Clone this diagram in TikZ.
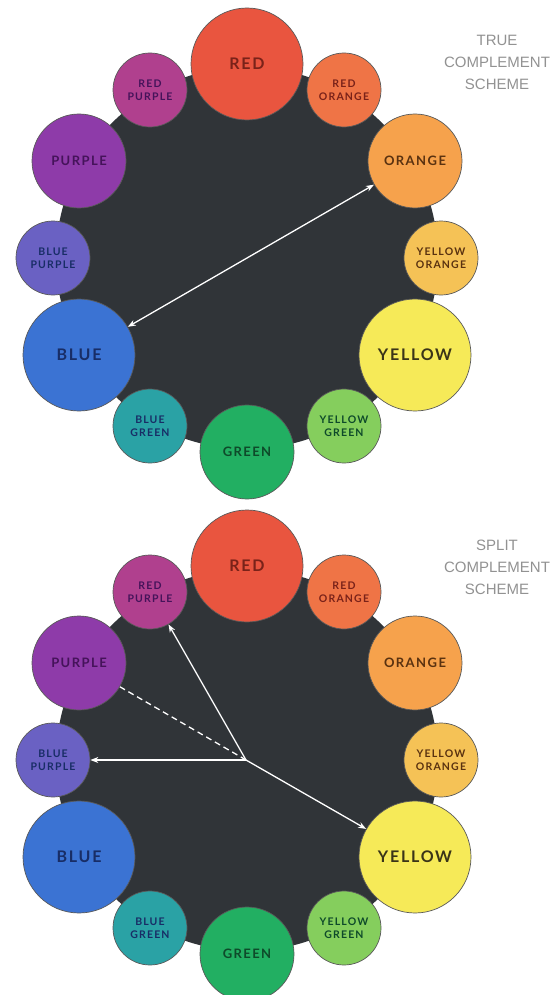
\documentclass[tikz,border=0pt]{standalone}
\usepackage{fontspec}
\setmainfont{Lato}
\newfontfamily\lblfont[LetterSpace=11]{Lato}
\newfontfamily\ttlfont{Liberation Sans}
\usetikzlibrary{calc,arrows.meta}
\definecolor{cR}{HTML}{E9553F}
\definecolor{cRO}{HTML}{EF7446}
\definecolor{cO}{HTML}{F6A24C}
\definecolor{cYO}{HTML}{F5C256}
\definecolor{cY}{HTML}{F6EA58}
\definecolor{cYG}{HTML}{85CE5D}
\definecolor{cG}{HTML}{22AF62}
\definecolor{cBG}{HTML}{2AA2A5}
\definecolor{cB}{HTML}{3B73D3}
\definecolor{cBP}{HTML}{6A61C3}
\definecolor{cP}{HTML}{8E3BA9}
\definecolor{cRP}{HTML}{B0408E}
\definecolor{cDisc}{HTML}{303438}
\definecolor{tR}{HTML}{7A2219}
\definecolor{tO}{HTML}{5A3210}
\definecolor{tY}{HTML}{3A3418}
\definecolor{tG}{HTML}{0E4A2A}
\definecolor{tB}{HTML}{182D66}
\definecolor{tP}{HTML}{45135A}
\definecolor{cTitle}{HTML}{929292}
\tikzset{
  hue/.style={circle, inner sep=0pt, draw=black!65, line width=0.7pt, align=center},
  prim/.style={hue, minimum size=112pt, font=\lblfont\bfseries\fontsize{16}{18}\selectfont},
  secd/.style={hue, minimum size=94pt, font=\lblfont\bfseries\fontsize{13}{15}\selectfont},
  tert/.style={hue, minimum size=74pt, font=\lblfont\bfseries\fontsize{10.5}{13}\selectfont},
  disc/.style={fill=cDisc},
  tip/.tip={Stealth[length=8pt,width=6pt]},
  arr/.style={draw=white, line width=1.3pt},
  ttl/.style={align=center, text=cTitle, font=\ttlfont\fontsize{15}{22}\selectfont, inner sep=0pt}
}
\newcommand\hueWheel[2]{%
  \fill[disc] (247,#2) circle[radius=191pt];
  \node[prim, fill=cR,  text=tR] (#1red) at ($(247,#2)+(0,-194)$) {RED};
  \node[tert, fill=cRO, text=tR] (#1redorange) at ($(247,#2)+(97,-168)$) {RED\\ORANGE};
  \node[secd, fill=cO,  text=tO] (#1orange) at ($(247,#2)+(168,-97)$) {ORANGE};
  \node[tert, fill=cYO, text=tO] (#1yelloworange) at ($(247,#2)+(194,0)$) {YELLOW\\ORANGE};
  \node[prim, fill=cY,  text=tY] (#1yellow) at ($(247,#2)+(168,97)$) {YELLOW};
  \node[tert, fill=cYG, text=tG] (#1yellowgreen) at ($(247,#2)+(97,168)$) {YELLOW\\GREEN};
  \node[secd, fill=cG,  text=tG] (#1green) at ($(247,#2)+(0,194)$) {GREEN};
  \node[tert, fill=cBG, text=tB] (#1bluegreen) at ($(247,#2)+(-97,168)$) {BLUE\\GREEN};
  \node[prim, fill=cB,  text=tB] (#1blue) at ($(247,#2)+(-168,97)$) {BLUE};
  \node[tert, fill=cBP, text=tB] (#1bluepurple) at ($(247,#2)+(-194,0)$) {BLUE\\PURPLE};
  \node[secd, fill=cP,  text=tP] (#1purple) at ($(247,#2)+(-168,-97)$) {PURPLE};
  \node[tert, fill=cRP, text=tP] (#1redpurple) at ($(247,#2)+(-97,-168)$) {RED\\PURPLE};
}
\begin{document}
\begin{tikzpicture}[x=1pt, y=-1pt]
  \fill[white] (0,0) rectangle (554,995);
  \useasboundingbox (0,0) rectangle (554,995);
  % top wheel: true complement
  \hueWheel{t}{258}
  \node[ttl] (ttitle) at (497,62) {TRUE\\COMPLEMENT\\SCHEME};
  \draw[arr, tip-tip] (torange) -- (tblue);
  % bottom wheel: split complement
  \hueWheel{b}{760}
  \node[ttl] (btitle) at (497,567) {SPLIT\\COMPLEMENT\\SCHEME};
  \coordinate (bhub) at (246,760);
  \draw[arr, -tip] (bhub) -- (bredpurple);
  \draw[arr, -tip] (bhub) -- (bbluepurple);
  \draw[arr, -tip] (bhub) -- (byellow);
  \draw[arr, dash pattern=on 6pt off 4pt] (bhub) -- (bpurple);
\end{tikzpicture}
\end{document}
